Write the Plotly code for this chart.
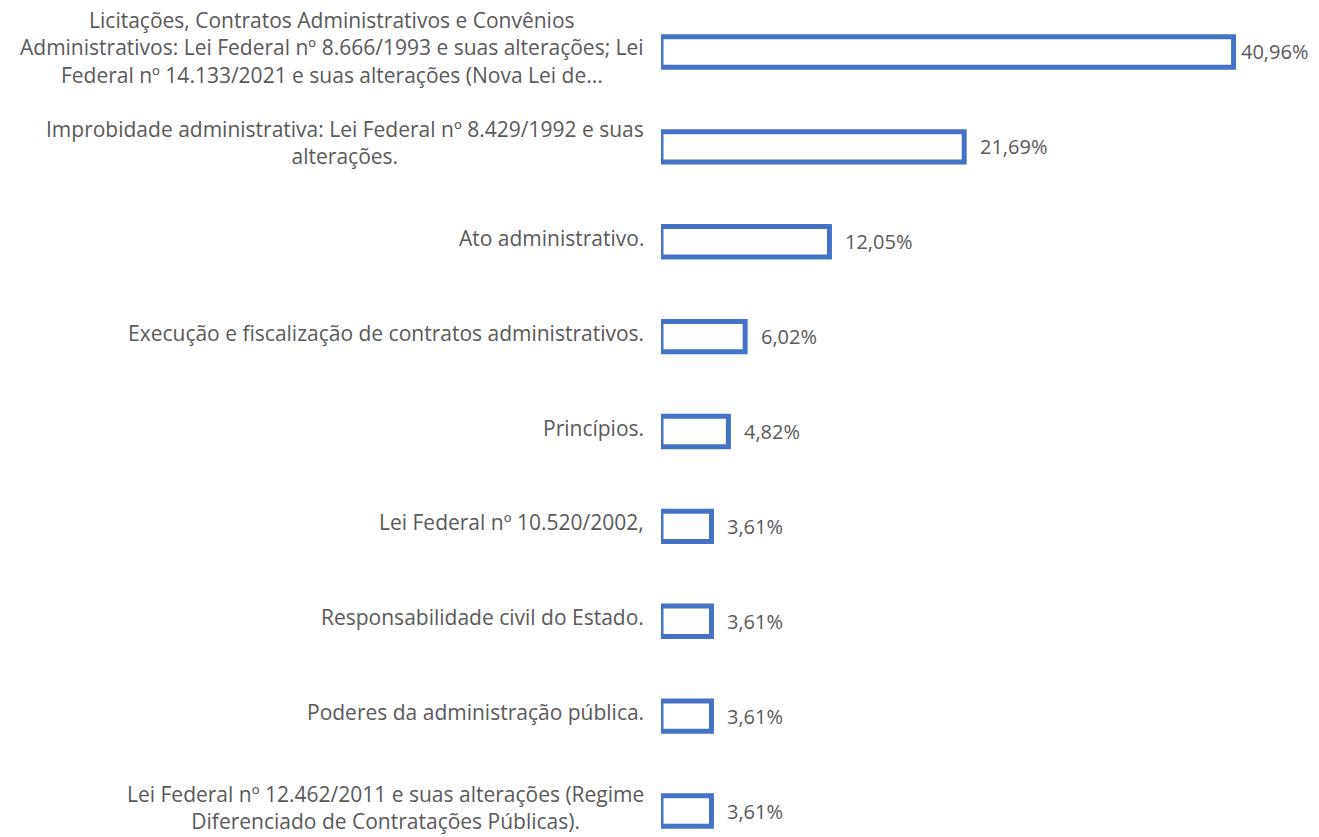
import plotly.graph_objects as go

categories = [
    "Licitações, Contratos Administrativos e Convênios\nAdministrativos: Lei Federal nº 8.666/1993 e suas alterações; Lei\nFederal nº 14.133/2021 e suas alterações (Nova Lei de...",
    "Improbidade administrativa: Lei Federal nº 8.429/1992 e suas\nalterações.",
    "Ato administrativo.",
    "Execução e fiscalização de contratos administrativos.",
    "Princípios.",
    "Lei Federal nº 10.520/2002,",
    "Responsabilidade civil do Estado.",
    "Poderes da administração pública.",
    "Lei Federal nº 12.462/2011 e suas alterações (Regime\nDiferenciado de Contratações Públicas).",
]
values = [40.96, 21.69, 12.05, 6.02, 4.82, 3.61, 3.61, 3.61, 3.61]
value_labels = ["40,96%", "21,69%", "12,05%", "6,02%", "4,82%", "3,61%", "3,61%", "3,61%", "3,61%"]

BLUE = "#4472C4"
GREY = "#595959"
FONT = "Open Sans"

fig = go.Figure(
    go.Bar(
        x=values,
        y=categories,
        orientation="h",
        width=0.32,
        marker=dict(color="white", line=dict(color=BLUE, width=5)),
        hoverinfo="skip",
    )
)

vmax = max(values)
annotations = []
for cat, v, lab in zip(categories, values, value_labels):
    annotations.append(dict(
        x=0, xref="paper", y=cat, yref="y", text=cat.replace("\n", "<br>"),
        xanchor="right", yanchor="middle", align="center", xshift=-15, yshift=4,
        showarrow=False, font=dict(family=FONT, size=21, color=GREY),
    ))
    annotations.append(dict(
        x=v, xref="x", y=cat, yref="y", text=lab,
        xanchor="left", yanchor="middle", align="left",
        xshift=5 if v == vmax else 14,
        showarrow=False, font=dict(family=FONT, size=20, color=GREY),
    ))

fig.update_layout(
    width=1319, height=837,
    margin=dict(l=661, r=15, t=0, b=0, pad=0),
    paper_bgcolor="white", plot_bgcolor="white",
    showlegend=False,
    xaxis=dict(range=[0, 46], visible=False, fixedrange=True),
    yaxis=dict(type="category", categoryorder="array", categoryarray=categories,
               range=[8.274, -0.548], showticklabels=False, showgrid=False,
               zeroline=False, showline=False, ticks="", fixedrange=True),
    annotations=annotations,
    font=dict(family=FONT, size=20, color=GREY),
)

fig.write_html("out.html", post_script="document.body.style.margin='0';",
               config={"displayModeBar": False})
